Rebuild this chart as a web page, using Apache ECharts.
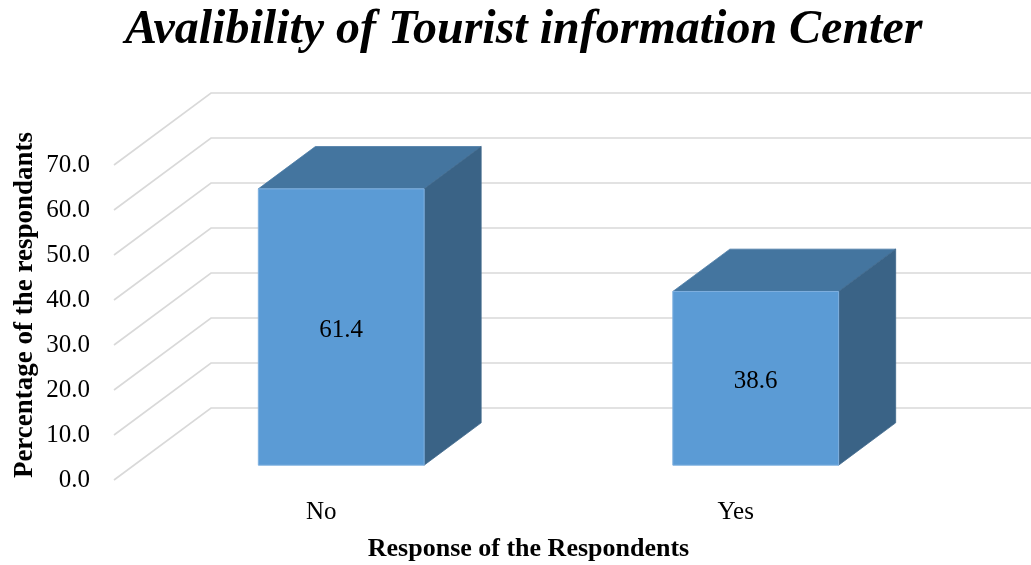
<!DOCTYPE html>
<html>
<head>
<meta charset="utf-8">
<script src="https://cdn.jsdelivr.net/npm/echarts@6/dist/echarts.min.js"></script>
<style>
  html, body { margin: 0; padding: 0; background: #fff; }
  #chart { width: 1031px; height: 565px; }
</style>
</head>
<body>
<div id="chart"></div>
<script>
// Survey responses
const categories = ['No', 'Yes'];
const percentages = [61.4, 38.6];
const yTicks = [0, 10, 20, 30, 40, 50, 60, 70];

// Oblique projection of the depth axis (pixels from front plane to back wall)
const DEPTH_DX = 97;
const DEPTH_DY = -72;
// Bars occupy this slice of the depth
const BAR_FRONT = 0.206;
const BAR_BACK = 0.794;
const BAR_WIDTH_RATIO = 0.4;

const SERIF = '"Liberation Serif", "Times New Roman", serif';

const chart = echarts.init(document.getElementById('chart'));

function renderGrid(params, api) {
  const y = api.coord([0, api.value(1)])[1];
  const x0 = params.coordSys.x;
  return {
    type: 'polyline',
    silent: true,
    shape: {
      points: [
        [x0, y],
        [x0 + DEPTH_DX, y + DEPTH_DY],
        [api.getWidth(), y + DEPTH_DY]
      ]
    },
    style: { stroke: '#d9d9d9', lineWidth: 1.6, fill: null }
  };
}

function renderBar(params, api) {
  const idx = api.value(0);
  const val = api.value(1);
  const base = api.coord([idx, 0]);
  const top = api.coord([idx, val]);
  const band = api.size([1, 0])[0];
  const w = band * BAR_WIDTH_RATIO;
  const fx = base[0] - w / 2 + DEPTH_DX * BAR_FRONT;
  const fyBottom = base[1] + DEPTH_DY * BAR_FRONT;
  const fyTop = top[1] + DEPTH_DY * BAR_FRONT;
  const bdx = DEPTH_DX * (BAR_BACK - BAR_FRONT);
  const bdy = DEPTH_DY * (BAR_BACK - BAR_FRONT);
  return {
    type: 'group',
    children: [
      {
        type: 'polygon',
        shape: { points: [[fx, fyTop], [fx + w, fyTop], [fx + w + bdx, fyTop + bdy], [fx + bdx, fyTop + bdy]] },
        style: { fill: '#44759f', stroke: '#4a7ba6', lineWidth: 0.8 }
      },
      {
        type: 'polygon',
        shape: { points: [[fx + w, fyTop], [fx + w, fyBottom], [fx + w + bdx, fyBottom + bdy], [fx + w + bdx, fyTop + bdy]] },
        style: { fill: '#3a6386', stroke: '#41698d', lineWidth: 0.8 }
      },
      {
        type: 'rect',
        shape: { x: fx, y: fyTop, width: w, height: fyBottom - fyTop },
        style: { fill: '#5b9bd5', stroke: '#7fb0df', lineWidth: 1 }
      },
      {
        type: 'text',
        style: {
          x: fx + w / 2,
          y: (fyTop + fyBottom) / 2 + 3,
          text: val.toFixed(1),
          fill: '#000',
          font: '25px ' + SERIF,
          textAlign: 'center',
          textVerticalAlign: 'middle'
        }
      }
    ]
  };
}

chart.setOption({
  backgroundColor: '#ffffff',
  animation: false,
  title: {
    text: 'Avalibility of Tourist information Center',
    left: 120,
    top: 2,
    textStyle: {
      fontFamily: SERIF,
      fontSize: 48,
      fontWeight: 'bold',
      fontStyle: 'italic',
      color: '#000'
    }
  },
  grid: { left: 114, right: 88, top: 165, bottom: 85, containLabel: false, outerBoundsMode: 'none' },
  xAxis: {
    type: 'category',
    data: categories,
    axisLine: { show: false },
    axisTick: { show: false },
    axisLabel: { fontFamily: SERIF, fontSize: 25, color: '#000', margin: 20 },
    name: 'Response of the Respondents',
    nameLocation: 'middle',
    nameGap: 56,
    nameTextStyle: { fontFamily: SERIF, fontSize: 26, fontWeight: 'bold', color: '#000' }
  },
  yAxis: {
    type: 'value',
    min: 0,
    max: 70,
    interval: 10,
    axisLine: { show: false },
    axisTick: { show: false },
    splitLine: { show: false },
    axisLabel: {
      fontFamily: SERIF, fontSize: 25, color: '#000', margin: 24,
      formatter: v => v.toFixed(1)
    }
  },
  graphic: [{
    type: 'text',
    x: 25,
    y: 305,
    rotation: Math.PI / 2,
    style: {
      text: 'Percentage of the respondants',
      font: 'bold 27px ' + SERIF,
      fill: '#000',
      textAlign: 'center',
      textVerticalAlign: 'middle'
    }
  }],
  series: [
    {
      type: 'custom',
      name: 'grid',
      clip: false,
      silent: true,
      z: 1,
      renderItem: renderGrid,
      encode: { x: 0, y: 1 },
      data: yTicks.map(v => [0, v])
    },
    {
      type: 'custom',
      name: 'Percentage',
      clip: false,
      z: 2,
      renderItem: renderBar,
      encode: { x: 0, y: 1 },
      data: percentages.map((v, i) => [i, v])
    }
  ]
});
</script>
</body>
</html>
